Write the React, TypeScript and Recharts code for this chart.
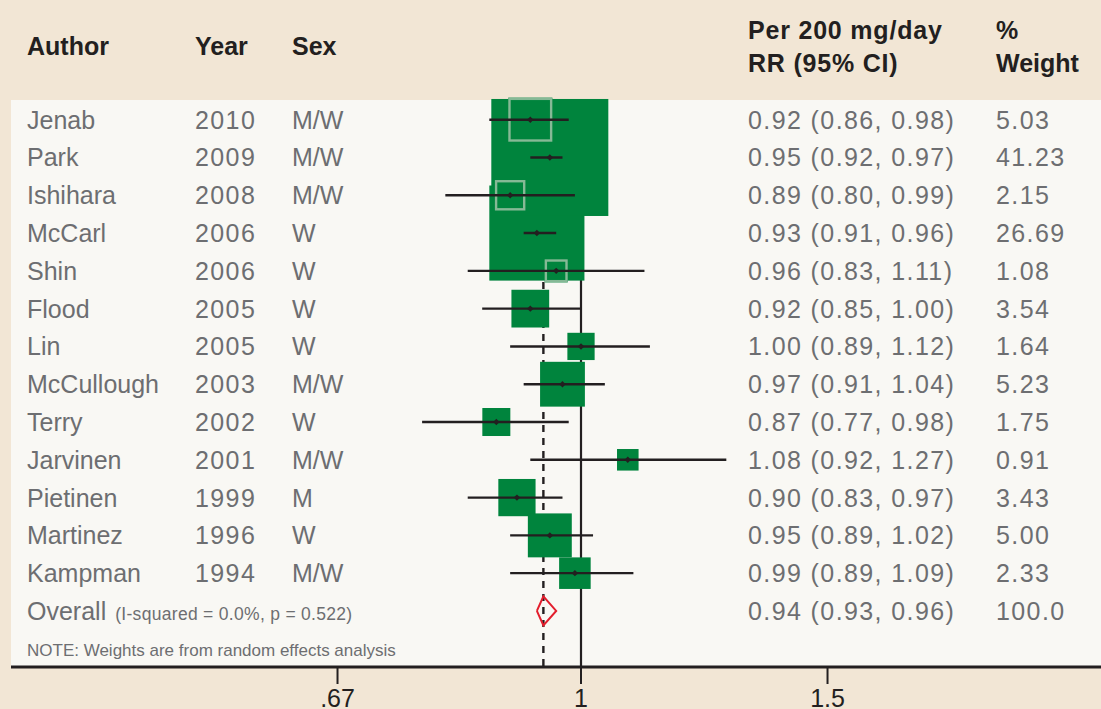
import React from 'react';
import { ScatterChart, Scatter, XAxis, YAxis, CartesianGrid, Customized } from 'recharts';

// ---- data ----
const authors = ['Jenab', 'Park', 'Ishihara', 'McCarl', 'Shin', 'Flood', 'Lin', 'McCullough', 'Terry', 'Jarvinen', 'Pietinen', 'Martinez', 'Kampman'];
const years = ['2010', '2009', '2008', '2006', '2006', '2005', '2005', '2003', '2002', '2001', '1999', '1996', '1994'];
const sexes = ['M/W', 'M/W', 'M/W', 'W', 'W', 'W', 'W', 'M/W', 'W', 'M/W', 'M', 'W', 'M/W'];
const rrValues = [0.92, 0.95, 0.89, 0.93, 0.96, 0.92, 1.0, 0.97, 0.87, 1.08, 0.9, 0.95, 0.99];
const lowerCI = [0.86, 0.92, 0.8, 0.91, 0.83, 0.85, 0.89, 0.91, 0.77, 0.92, 0.83, 0.89, 0.89];
const upperCI = [0.98, 0.97, 0.99, 0.96, 1.11, 1.0, 1.12, 1.04, 0.98, 1.27, 0.97, 1.02, 1.09];
const weights = [5.03, 41.23, 2.15, 26.69, 1.08, 3.54, 1.64, 5.23, 1.75, 0.91, 3.43, 5.0, 2.33];
const overallRR = 0.94;
const overallLower = 0.93;
const overallUpper = 0.96;
const overallWeightLabel = '100.0';
const overallLabel = 'Overall';
const overallNote = '(I-squared = 0.0%, p = 0.522)';
const footNote = 'NOTE: Weights are from random effects analysis';
const xTicks = [0.67, 1, 1.5];
const tickLabels = ['.67', '1', '1.5'];

// ---- layout / style ----
const W = 1101;
const H = 709;
const M_TOP = 100;
const M_LEFT = 11;
const AXIS_H = 42;
const X_DOMAIN: [number, number] = [0.3916, 2.352];
const Y_DOMAIN: [number, number] = [-0.521, 14.483];
const PLOT_W = W - M_LEFT;
const PLOT_H = H - M_TOP - AXIS_H;
const PX_PER_LN = PLOT_W / (Math.log(X_DOMAIN[1]) - Math.log(X_DOMAIN[0]));
const ROW_PX = PLOT_H / (Y_DOMAIN[1] - Y_DOMAIN[0]);
const SIDE_K = 17.46;
const SIDE_PAD = 4.9;
const DIAMOND_HALF = 0.385; // in rows

const GREEN = '#00843d';
const OUTLINE = '#86b996';
const DARK = '#231f20';
const GRAY = '#6d6e71';
const BEIGE = '#f2e6d5';
const BODY = '#f9f8f4';
const RED = '#e31e2d';
const FONT = '"Liberation Sans", Arial, sans-serif';

const COL_AUTHOR = 27;
const COL_YEAR = 195;
const COL_SEX = 292;
const COL_RR = 748;
const COL_W = 996;

const side = (w: number) => SIDE_K * Math.sqrt(w) + SIDE_PAD;
const fmt = (v: number) => v.toFixed(2);

const studies = authors.map((a, i) => ({
  x: rrValues[i],
  y: i,
  w: weights[i],
  lo: lowerCI[i],
  hi: upperCI[i],
  author: a,
  year: years[i],
  sex: sexes[i],
  rrLabel: `${fmt(rrValues[i])} (${fmt(lowerCI[i])}, ${fmt(upperCI[i])})`,
  wLabel: fmt(weights[i]),
}));

// boxes drawn from smallest to largest weight
const boxData = [...studies].sort((a, b) => a.w - b.w);

// outline boxes whose centre is hidden inside a larger box
const outlineData = studies.filter((b) =>
  studies.some(
    (o) =>
      o.w > b.w &&
      Math.abs(Math.log(o.x) - Math.log(b.x)) * PX_PER_LN < side(o.w) / 2 &&
      Math.abs(o.y - b.y) * ROW_PX < side(o.w) / 2
  )
);

// confidence interval segments
const ciSegments = studies.map((d) => [
  { x: d.lo, y: d.y },
  { x: d.hi, y: d.y },
]);

const overallRow = authors.length;
const textRows = [
  ...studies,
  {
    x: overallRR,
    y: overallRow,
    author: overallLabel,
    year: '',
    sex: '',
    rrLabel: `${fmt(overallRR)} (${fmt(overallLower)}, ${fmt(overallUpper)})`,
    wLabel: overallWeightLabel,
    overall: true,
  },
];

const nullLine = [
  { x: 1, y: Y_DOMAIN[0] },
  { x: 1, y: Y_DOMAIN[1] },
];
const overallLine = [
  { x: overallRR, y: Y_DOMAIN[0] },
  { x: overallRR, y: Y_DOMAIN[1] },
];
const diamond = [
  { x: overallLower, y: overallRow },
  { x: overallRR, y: overallRow - DIAMOND_HALF },
  { x: overallUpper, y: overallRow },
  { x: overallRR, y: overallRow + DIAMOND_HALF },
  { x: overallLower, y: overallRow },
];

const Empty = () => <g />;

const BoxShape = (p: any) => {
  const s = side(p.payload.w);
  return <rect x={p.cx - s / 2} y={p.cy - s / 2} width={s} height={s} fill={GREEN} />;
};

const OutlineShape = (p: any) => {
  const s = side(p.payload.w);
  const sw = 2.4;
  return (
    <rect
      x={p.cx - s / 2 + sw / 2}
      y={p.cy - s / 2 + sw / 2}
      width={s - sw}
      height={s - sw}
      fill="none"
      stroke={OUTLINE}
      strokeWidth={sw}
    />
  );
};

const PointShape = (p: any) => {
  const r = 3.2;
  return (
    <path
      d={`M${p.cx - r},${p.cy} L${p.cx},${p.cy - r} L${p.cx + r},${p.cy} L${p.cx},${p.cy + r} Z`}
      fill={DARK}
    />
  );
};

const numStyle = { letterSpacing: 1.4 };

const TextShape = (p: any) => {
  const d = p.payload;
  const y = p.cy + 9;
  return (
    <g fontFamily={FONT} fontSize={25} fill={GRAY}>
      <text x={COL_AUTHOR} y={y}>
        {d.author}
        {d.overall ? (
          <tspan fontSize={17.5} dx={9} style={{ letterSpacing: 0.3 }}>
            {overallNote}
          </tspan>
        ) : null}
      </text>
      {d.year ? (
        <text x={COL_YEAR} y={y} style={numStyle}>
          {d.year}
        </text>
      ) : null}
      {d.sex ? (
        <text x={COL_SEX} y={y}>
          {d.sex}
        </text>
      ) : null}
      <text x={COL_RR} y={y} style={numStyle}>
        {d.rrLabel}
      </text>
      <text x={COL_W} y={y} style={numStyle}>
        {d.wLabel}
      </text>
    </g>
  );
};

const Header = () => (
  <g fontFamily={FONT} fontWeight="bold" fontSize={25} fill={DARK}>
    <text x={COL_AUTHOR} y={55}>Author</text>
    <text x={COL_YEAR} y={55}>Year</text>
    <text x={COL_SEX} y={55}>Sex</text>
    <text x={COL_RR} y={39} style={{ letterSpacing: 0.8 }}>Per 200 mg/day</text>
    <text x={COL_RR} y={72} style={{ letterSpacing: 0.8 }}>RR (95% CI)</text>
    <text x={COL_W} y={39}>%</text>
    <text x={COL_W} y={72}>Weight</text>
    <text x={COL_AUTHOR} y={656} fontWeight="normal" fontSize={17} fill={GRAY}>
      {footNote}
    </text>
  </g>
);

export default function App() {
  return (
    <div style={{ position: 'absolute', left: 0, top: 0, width: W, height: H, background: BEIGE }}>
      <ScatterChart width={W} height={H} margin={{ top: M_TOP, left: M_LEFT, right: 0, bottom: 0 }}>
        <CartesianGrid horizontal={false} vertical={false} fill={BODY} stroke="none" />
        <XAxis
          type="number"
          dataKey="x"
          scale="log"
          domain={X_DOMAIN}
          ticks={xTicks}
          interval={0}
          height={AXIS_H}
          tickFormatter={(v: number) => tickLabels[xTicks.indexOf(v)] ?? String(v)}
          axisLine={{ stroke: DARK, strokeWidth: 3 }}
          tickLine={{ stroke: DARK, strokeWidth: 2 }}
          tickSize={17}
          tickMargin={5}
          tick={{ fontSize: 25, fill: DARK, fontFamily: FONT }}
        />
        <YAxis type="number" dataKey="y" domain={Y_DOMAIN} reversed hide width={0} />
        <Scatter data={nullLine} line={{ stroke: DARK, strokeWidth: 2.2 }} shape={Empty} isAnimationActive={false} />
        <Scatter
          data={overallLine}
          line={{ stroke: DARK, strokeWidth: 2.4, strokeDasharray: '7 6' }}
          shape={Empty}
          isAnimationActive={false}
        />
        <Scatter data={boxData} shape={BoxShape} isAnimationActive={false} />
        <Scatter data={outlineData} shape={OutlineShape} isAnimationActive={false} />
        {ciSegments.map((seg, i) => (
          <Scatter
            key={`ci-${i}`}
            data={seg}
            line={{ stroke: DARK, strokeWidth: 2.4 }}
            shape={Empty}
            isAnimationActive={false}
          />
        ))}
        <Scatter data={studies} shape={PointShape} isAnimationActive={false} />
        <Scatter data={diamond} line={{ stroke: RED, strokeWidth: 2, fill: 'none' }} shape={Empty} isAnimationActive={false} />
        <Scatter data={textRows} shape={TextShape} isAnimationActive={false} />
        <Customized component={Header} />
      </ScatterChart>
    </div>
  );
}
